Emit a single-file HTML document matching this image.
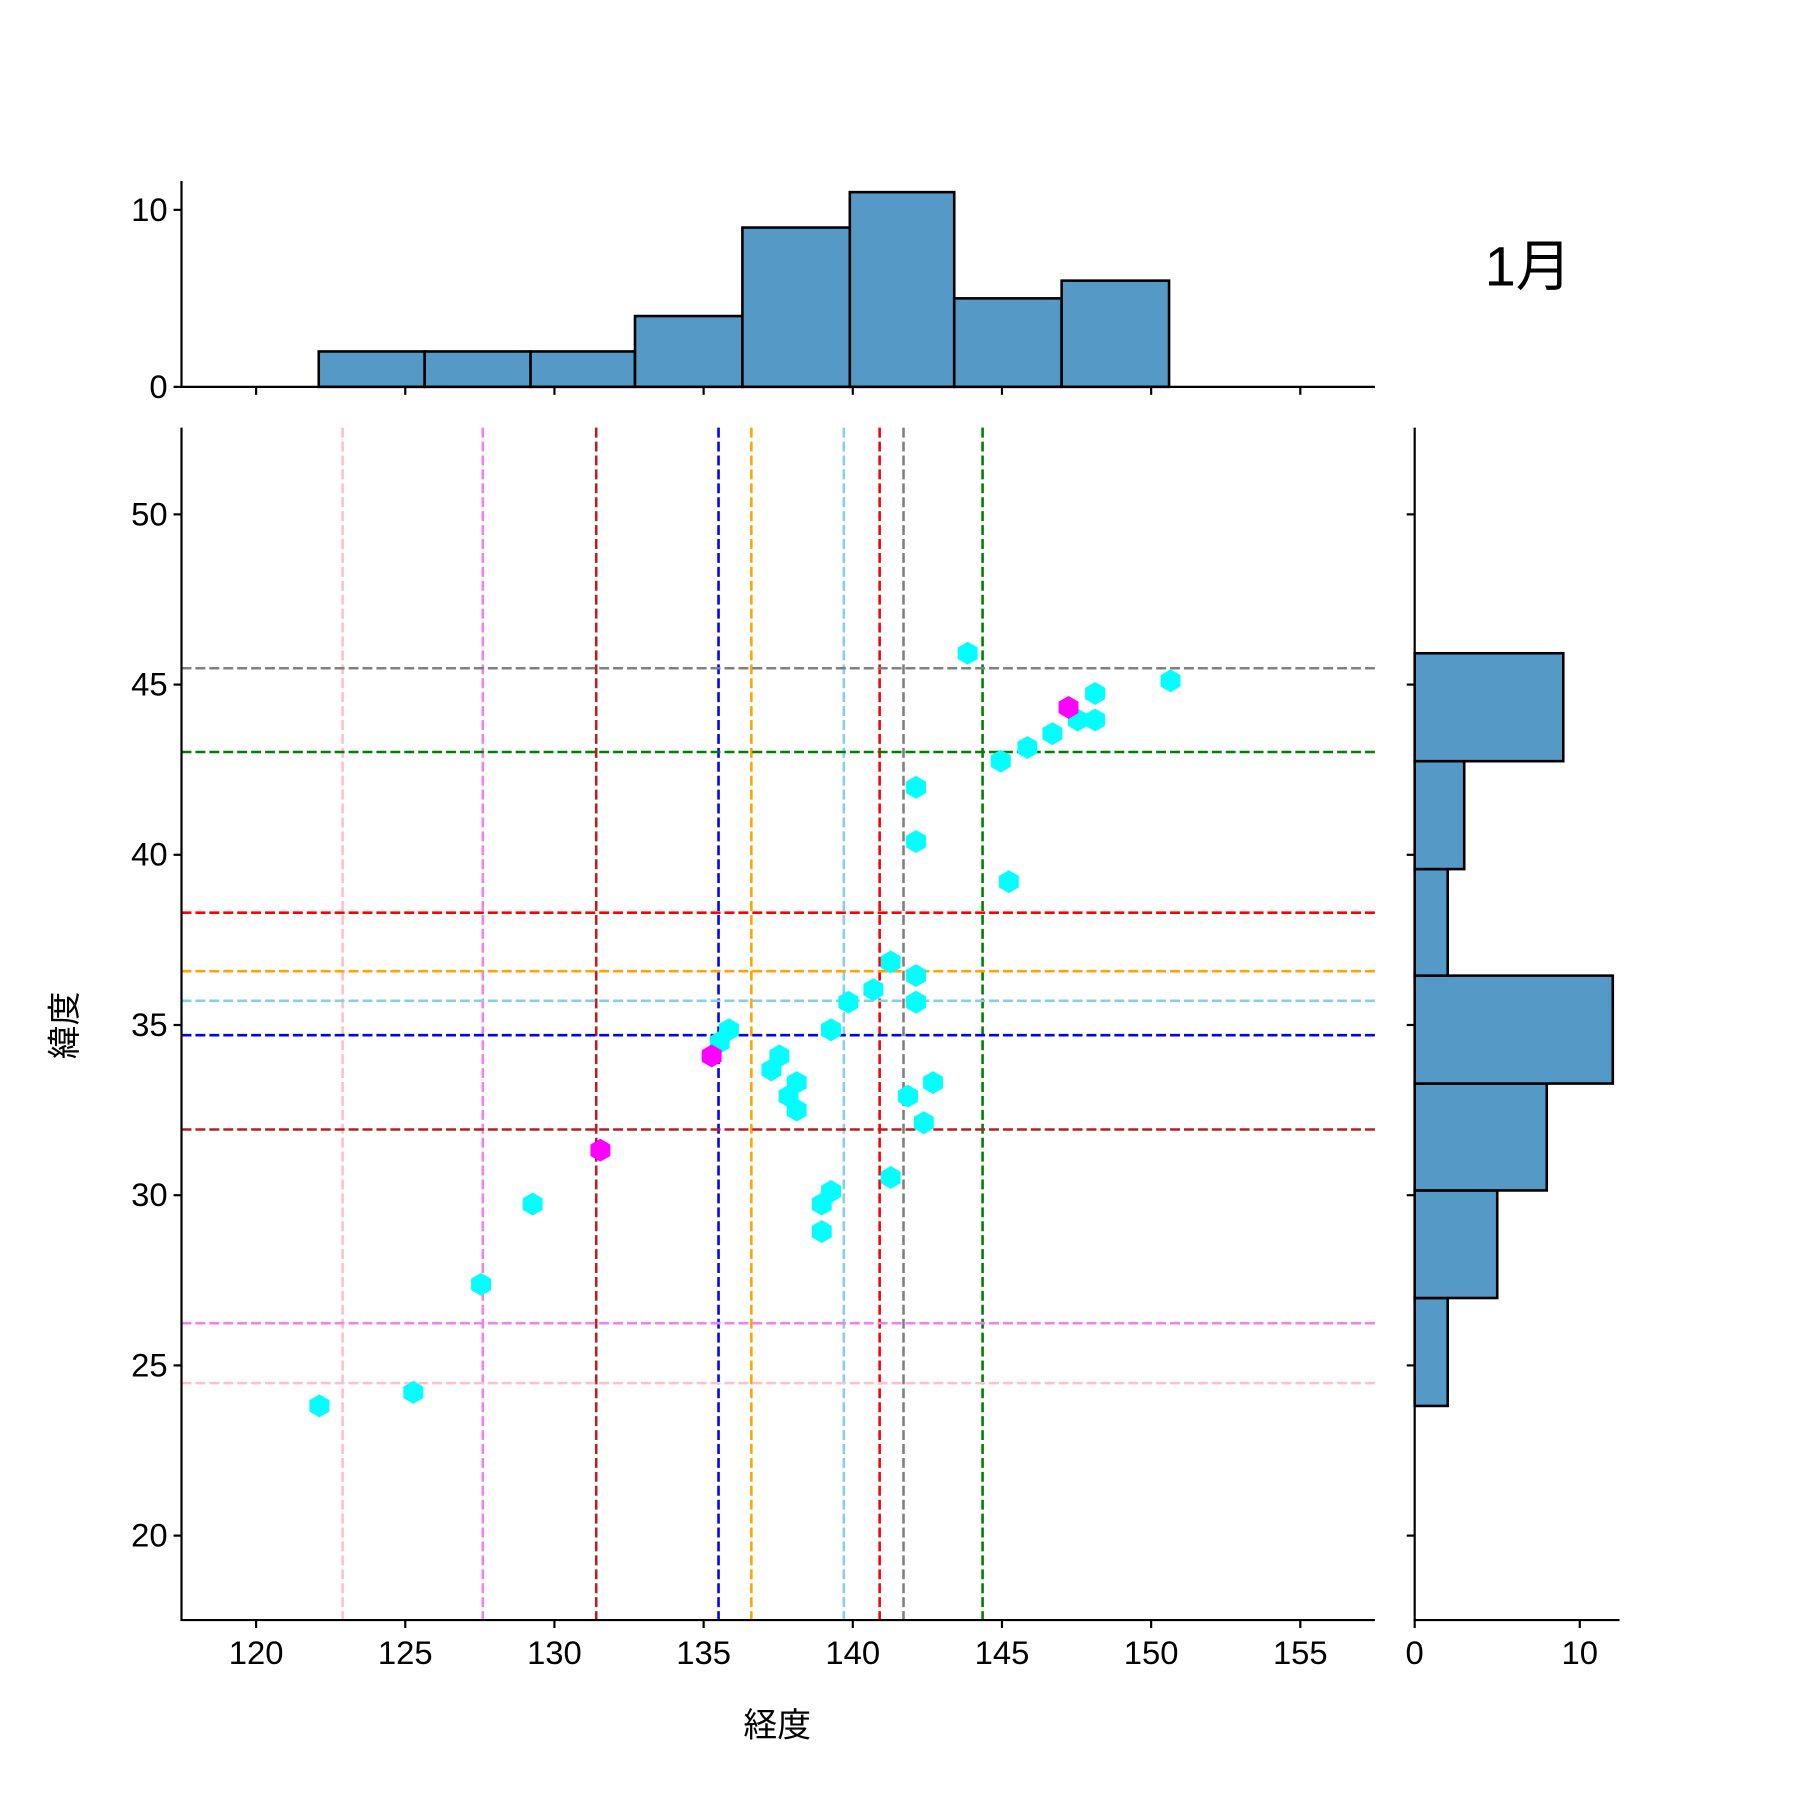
<!DOCTYPE html><html><head><meta charset="utf-8"><style>body{margin:0;background:#fff}svg{display:block}text{font-family:"Liberation Sans","Noto Sans CJK JP",sans-serif;fill:#000}</style></head><body>
<svg width="1800" height="1800" xmlns="http://www.w3.org/2000/svg">
<g id="s" transform="translate(1.5,1) scale(0.9945)">
<text x="1535" y="286" font-size="56" text-anchor="middle">1月</text>
<text x="780" y="1745" font-size="34" text-anchor="middle">経度</text>
<text x="0" y="0" font-size="34" text-anchor="middle" transform="translate(75,1030) rotate(-90)">緯度</text>
</g>
</svg>
<script>
const s=document.getElementById('s');const NS='http://www.w3.org/2000/svg';
function el(t,a,txt){const e=document.createElementNS(NS,t);for(const k in a)e.setAttribute(k,a[k]);if(txt!==undefined)e.textContent=txt;s.appendChild(e);return e;}
const L=181,R=1381,T=429,B=1628;
const X=v=>L+(v-117.5)*30, Y=v=>B-(v-17.52)*34.23;
const vl=[[122.9,'pink'],[127.6,'violet'],[131.4,'firebrick'],[135.5,'blue'],[136.6,'orange'],[139.7,'skyblue'],[140.9,'red'],[141.7,'gray'],[144.35,'green']];
const hl=[[45.48,'gray'],[43.02,'green'],[38.30,'red'],[36.58,'orange'],[35.71,'skyblue'],[34.70,'blue'],[31.93,'firebrick'],[26.24,'violet'],[24.48,'pink']];
vl.forEach(([v,c])=>el('line',{x1:X(v),x2:X(v),y1:T,y2:B,stroke:c,'stroke-width':2.6,'stroke-dasharray':'10 4'}));
hl.forEach(([v,c])=>el('line',{x1:L,x2:R,y1:Y(v),y2:Y(v),stroke:c,'stroke-width':2.6,'stroke-dasharray':'10 4'}));
const cy=[[143.85,45.92],[150.65,45.11],[148.12,44.74],[147.54,43.96],[148.12,43.96],[146.69,43.56],[145.85,43.15],[144.96,42.75],[142.12,41.98],[142.12,40.39],[145.23,39.21],[141.27,36.85],[142.12,36.45],[140.69,36.04],[139.85,35.67],[142.12,35.67],[139.27,34.86],[135.85,34.86],[135.54,34.49],[137.54,34.09],[137.27,33.68],[138.12,33.31],[142.69,33.31],[137.85,32.91],[141.85,32.91],[138.12,32.50],[142.38,32.13],[141.27,30.52],[139.27,30.11],[138.96,29.74],[129.27,29.74],[138.96,28.93],[127.54,27.38],[125.27,24.21],[122.12,23.81]];
const mg=[[147.23,44.33],[135.27,34.09],[131.54,31.32]];
function hex(x,y,c){const r=11.5;let p=[];for(let i=0;i<6;i++){const a=Math.PI/3*i-Math.PI/2;p.push((x+r*Math.cos(a)).toFixed(1)+','+(y+r*Math.sin(a)).toFixed(1));}el('polygon',{points:p.join(' '),fill:c});}
cy.forEach(([a,b])=>hex(X(a),Y(b),'#00ffff'));mg.forEach(([a,b])=>hex(X(a),Y(b),'#ff00ff'));
el('line',{x1:L,x2:L,y1:T,y2:B+1,stroke:'#000','stroke-width':2.2});
el('line',{x1:L-1,x2:R,y1:B,y2:B,stroke:'#000','stroke-width':2.2});
for(let v=120;v<=155;v+=5){el('line',{x1:X(v),x2:X(v),y1:B,y2:B+8,stroke:'#000','stroke-width':2.2});el('text',{x:X(v),y:B+44,'font-size':33,'text-anchor':'middle'},v);}
for(let v=20;v<=50;v+=5){el('line',{x1:L-8,x2:L,y1:Y(v),y2:Y(v),stroke:'#000','stroke-width':2.2});el('text',{x:L-14,y:Y(v)+11,'font-size':33,'text-anchor':'end'},v);}
const TB=388,TT=181,TS=(388-210)/10;
const ed=[122.1,125.65,129.2,132.7,136.3,139.9,143.4,147.0,150.6],hc=[2,2,2,4,9,11,5,6];
for(let i=0;i<8;i++)el('rect',{x:X(ed[i]),y:TB-hc[i]*TS,width:X(ed[i+1])-X(ed[i]),height:hc[i]*TS,fill:'#5599c6',stroke:'#000','stroke-width':2.6});
el('line',{x1:L,x2:L,y1:TT,y2:TB+1,stroke:'#000','stroke-width':2.2});
el('line',{x1:L-1,x2:R,y1:TB,y2:TB,stroke:'#000','stroke-width':2.2});
for(let v=120;v<=155;v+=5)el('line',{x1:X(v),x2:X(v),y1:TB,y2:TB+8,stroke:'#000','stroke-width':2.2});
[[0,TB],[10,210]].forEach(([v,y])=>{el('line',{x1:L-8,x2:L,y1:y,y2:y,stroke:'#000','stroke-width':2.2});el('text',{x:L-14,y:y+11,'font-size':33,'text-anchor':'end'},v);});
const RL=1421,RR=1627,RS=16.6;
const ye=[23.81,26.98,30.14,33.28,36.45,39.58,42.75,45.92],rc=[2,5,8,12,2,3,9];
for(let i=0;i<7;i++)el('rect',{x:RL,y:Y(ye[i+1]),width:rc[i]*RS,height:Y(ye[i])-Y(ye[i+1]),fill:'#5599c6',stroke:'#000','stroke-width':2.6});
el('line',{x1:RL,x2:RL,y1:T,y2:B+1,stroke:'#000','stroke-width':2.2});
el('line',{x1:RL-1,x2:RR,y1:B,y2:B,stroke:'#000','stroke-width':2.2});
for(let v=20;v<=50;v+=5)el('line',{x1:RL-8,x2:RL,y1:Y(v),y2:Y(v),stroke:'#000','stroke-width':2.2});
[0,10].forEach(v=>{const x=RL+v*RS;el('line',{x1:x,x2:x,y1:B,y2:B+8,stroke:'#000','stroke-width':2.2});el('text',{x:x,y:B+44,'font-size':33,'text-anchor':'middle'},v);});
</script></body></html>
